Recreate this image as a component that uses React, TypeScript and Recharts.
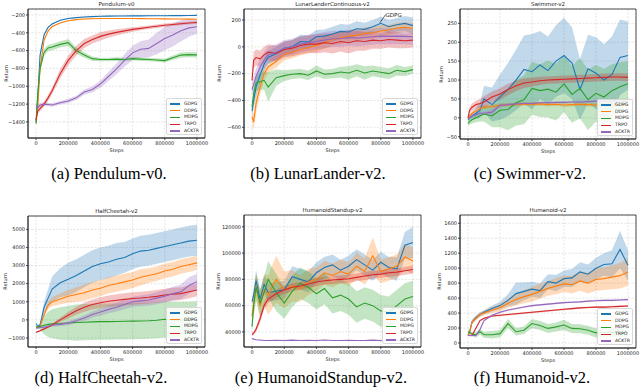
import {
  ComposedChart,
  Line,
  Area,
  XAxis,
  YAxis,
  CartesianGrid,
  ReferenceArea,
  ReferenceLine,
  ReferenceDot,
} from "recharts";

// shared x grid (env steps)
const steps = [0, 10000, 25000, 50000, 75000, 100000, 150000, 200000, 250000, 300000, 350000, 400000, 450000, 500000, 550000, 600000, 650000, 700000, 750000, 800000, 850000, 900000, 950000, 1000000];
const xTicks = [0, 200000, 400000, 600000, 800000, 1000000];

const algoNames = ["GDPG", "DDPG", "MDPG", "TRPO", "ACKTR"];
const algoKeys = ["gdpg", "ddpg", "mdpg", "trpo", "acktr"];
const algoColors = ["#1f77b4", "#ff7f0e", "#2ca02c", "#d62728", "#9467bd"];

// Pendulum-v0
const pendGdpg = [-1400, -1150, -650, -420, -340, -300, -260, -240, -230, -222, -218, -215, -213, -212, -211, -210, -210, -209, -208, -208, -207, -207, -206, -205];
const pendGdpgSd = [10, 30, 30, 15, 10, 8, 6, 5, 5, 5, 4, 4, 4, 4, 4, 4, 4, 4, 4, 4, 4, 4, 4, 4];
const pendDdpg = [-1400, -1250, -800, -480, -380, -330, -290, -265, -252, -245, -242, -240, -240, -240, -240, -240, -241, -242, -243, -244, -245, -246, -247, -248];
const pendDdpgSd = [10, 30, 30, 15, 10, 8, 6, 5, 5, 5, 4, 4, 4, 4, 4, 4, 4, 4, 4, 4, 4, 4, 4, 4];
const pendMdpg = [-1420, -1100, -800, -620, -570, -560, -530, -510, -600, -650, -690, -700, -700, -695, -700, -690, -695, -700, -705, -712, -680, -650, -645, -648];
const pendMdpgSd = [10, 40, 40, 40, 35, 35, 35, 40, 35, 30, 25, 20, 20, 20, 20, 20, 20, 20, 20, 20, 25, 30, 30, 30];
const pendTrpo = [-1380, -1280, -1250, -1200, -1130, -1050, -860, -710, -600, -520, -475, -440, -415, -395, -378, -362, -350, -338, -327, -316, -306, -298, -290, -284];
const pendTrpoSd = [20, 30, 30, 30, 35, 40, 50, 55, 55, 50, 45, 45, 40, 35, 30, 25, 20, 20, 20, 20, 18, 18, 18, 18];
const pendAcktr = [-1220, -1240, -1210, -1200, -1205, -1210, -1185, -1165, -1130, -1065, -1035, -975, -890, -805, -710, -625, -585, -575, -520, -465, -425, -378, -345, -332];
const pendAcktrSd = [20, 30, 25, 20, 20, 20, 20, 25, 25, 30, 35, 40, 50, 60, 70, 80, 90, 100, 120, 130, 130, 120, 100, 80];

// LunarLanderContinuous-v2
const lunGdpg = [-480, -400, -300, -210, -130, -80, -50, -10, 0, 40, 35, 75, 80, 95, 115, 110, 135, 130, 150, 175, 150, 165, 175, 158];
const lunGdpgSd = [30, 60, 70, 60, 50, 50, 50, 50, 50, 50, 50, 50, 50, 55, 55, 55, 55, 50, 50, 50, 50, 50, 55, 60];
const lunDdpg = [-520, -560, -420, -300, -200, -150, -110, -55, -40, -20, -5, 10, 30, 55, 65, 80, 85, 100, 105, 118, 125, 140, 145, 138];
const lunDdpgSd = [40, 60, 70, 60, 50, 45, 45, 45, 45, 45, 45, 45, 45, 45, 45, 45, 45, 45, 45, 45, 40, 40, 40, 40];
const lunMdpg = [-450, -350, -270, -260, -250, -300, -230, -215, -205, -200, -212, -180, -205, -200, -188, -195, -175, -195, -180, -190, -200, -175, -185, -170];
const lunMdpgSd = [30, 60, 60, 60, 70, 110, 60, 40, 35, 35, 35, 40, 35, 35, 40, 50, 45, 50, 40, 40, 40, 40, 35, 30];
const lunTrpo = [-250, -100, -80, -90, -60, -40, -50, -20, -10, 10, 20, 20, 30, 25, 40, 30, 45, 40, 50, 45, 55, 50, 45, 50];
const lunTrpoSd = [30, 60, 60, 60, 60, 60, 60, 60, 60, 65, 65, 70, 70, 75, 75, 80, 75, 70, 65, 60, 60, 60, 55, 55];
const lunAcktr = [-320, -280, -220, -150, -100, -60, -40, -10, 0, 20, 30, 40, 50, 60, 60, 70, 65, 70, 75, 80, 78, 80, 78, 75];
const lunAcktrSd = [40, 60, 60, 60, 60, 60, 60, 60, 60, 60, 60, 60, 60, 60, 60, 60, 60, 60, 60, 60, 60, 60, 60, 60];
// arrow for the "GDPG" note: tail, head, text spot
const lunNote = [
  { x: 830000, y: 240 },
  { x: 795000, y: 180 },
  { x: 880000, y: 240 },
];

// Swimmer-v2
const swGdpg = [-5, 0, 5, 12, 20, 50, 35, 55, 75, 100, 128, 122, 140, 125, 150, 165, 145, 75, 130, 118, 100, 115, 160, 165];
const swGdpgSd = [5, 8, 10, 15, 20, 35, 45, 60, 70, 80, 90, 100, 90, 90, 95, 100, 95, 80, 90, 95, 95, 100, 100, 90];
const swDdpg = [0, 5, 12, 18, 25, 28, 30, 33, 35, 35, 37, 36, 37, 35, 36, 34, 35, 36, 35, 34, 36, 35, 34, 35];
const swDdpgSd = [3, 4, 5, 5, 6, 6, 5, 5, 5, 5, 5, 5, 5, 5, 5, 5, 5, 5, 5, 5, 5, 5, 5, 5];
const swMdpg = [-15, -10, -5, 0, 5, 10, 5, 20, 22, 40, 48, 78, 72, 76, 68, 90, 62, 78, 48, 65, 55, 72, 82, 90];
const swMdpgSd = [5, 8, 10, 12, 15, 20, 30, 45, 55, 60, 65, 70, 70, 75, 75, 75, 75, 80, 80, 75, 75, 70, 65, 60];
const swTrpo = [0, 20, 28, 35, 38, 42, 55, 63, 75, 85, 92, 95, 98, 100, 101, 102, 103, 104, 105, 106, 107, 108, 108, 107];
const swTrpoSd = [5, 8, 10, 10, 12, 15, 15, 15, 15, 14, 13, 12, 11, 10, 10, 10, 10, 10, 10, 10, 10, 10, 10, 10];
const swAcktr = [-5, 0, 5, 8, 12, 12, 15, 33, 35, 37, 38, 38, 40, 40, 41, 41, 42, 42, 43, 44, 44, 44, 44, 44];
const swAcktrSd = [3, 3, 4, 5, 5, 5, 8, 4, 3, 3, 3, 3, 3, 3, 3, 3, 3, 3, 3, 3, 3, 3, 3, 3];

// HalfCheetah-v2
const hcGdpg = [-200, -350, -300, 700, 1200, 1700, 2050, 2250, 2450, 2700, 2950, 3100, 3200, 3350, 3450, 3650, 3800, 3850, 3950, 4050, 4150, 4250, 4350, 4400];
const hcGdpgSd = [20, 50, 100, 300, 500, 700, 800, 900, 900, 900, 900, 900, 900, 900, 850, 850, 850, 850, 850, 850, 850, 850, 850, 850];
const hcDdpg = [-400, -400, -350, 300, 800, 1000, 1150, 1300, 1400, 1500, 1650, 1750, 1900, 2000, 2100, 2200, 2350, 2450, 2550, 2700, 2800, 2950, 3050, 3150];
const hcDdpgSd = [20, 50, 80, 150, 200, 250, 300, 350, 400, 450, 450, 450, 450, 450, 450, 450, 450, 400, 400, 400, 400, 400, 400, 400];
const hcMdpg = [-400, -400, -350, -300, -250, -220, -200, -170, -150, -130, -110, -100, -100, -90, -80, -70, -60, -50, -20, 30, 0, -10, 0, 10];
const hcMdpgSd = [0, 50, 200, 500, 700, 800, 900, 950, 1000, 1000, 1000, 1000, 1000, 1000, 1000, 1000, 1000, 1000, 1000, 1000, 1000, 1000, 1000, 1000];
const hcTrpo = [-700, -650, -600, -500, -400, -280, 0, 250, 500, 700, 850, 950, 1030, 1080, 1130, 1180, 1210, 1250, 1300, 1370, 1420, 1450, 1550, 1650];
const hcTrpoSd = [30, 40, 50, 60, 70, 80, 120, 180, 220, 250, 280, 300, 320, 330, 340, 350, 350, 350, 350, 350, 350, 350, 350, 350];
const hcAcktr = [-450, -450, -420, -400, -350, -300, -250, -180, -50, 100, 300, 430, 580, 700, 850, 1000, 1050, 1100, 1200, 1300, 1450, 1550, 1900, 2100];
const hcAcktrSd = [50, 50, 60, 60, 70, 80, 100, 120, 140, 160, 180, 200, 220, 240, 260, 280, 300, 320, 340, 360, 380, 400, 450, 450];

// HumanoidStandup-v2
const hsGdpg = [63000, 68000, 79000, 65000, 76000, 70000, 71000, 72000, 82000, 80000, 78000, 85000, 89000, 91000, 87000, 90000, 95000, 91000, 87000, 93000, 89000, 88000, 106000, 108000];
const hsGdpgSd = [2000, 5000, 8000, 7000, 7000, 7000, 7000, 7000, 8000, 8000, 8000, 8000, 8000, 8000, 8000, 8000, 8000, 8000, 8000, 8000, 8000, 9000, 10000, 12000];
const hsDdpg = [52000, 62000, 75000, 60000, 72000, 68000, 80000, 72000, 75000, 73000, 78000, 80000, 85000, 83000, 86000, 84000, 90000, 86000, 98000, 86000, 88000, 90000, 97000, 94000];
const hsDdpgSd = [3000, 8000, 10000, 10000, 12000, 15000, 18000, 14000, 12000, 10000, 10000, 9000, 9000, 9000, 9000, 9000, 10000, 10000, 14000, 9000, 9000, 9000, 10000, 10000];
const hsMdpg = [44000, 60000, 74000, 62000, 70000, 80000, 70000, 62000, 71000, 77000, 74000, 69000, 73000, 66000, 68000, 65000, 59000, 62000, 60000, 56000, 55000, 60000, 65000, 67000];
const hsMdpgSd = [3000, 8000, 10000, 10000, 12000, 14000, 14000, 12000, 12000, 12000, 12000, 12000, 12000, 12000, 12000, 12000, 12000, 12000, 12000, 12000, 12000, 12000, 12000, 12000];
const hsTrpo = [38000, 39000, 42000, 50000, 60000, 65000, 69000, 72000, 74000, 75000, 76500, 78000, 79000, 79500, 80000, 80500, 81500, 82500, 83500, 84000, 85000, 85500, 86500, 87500];
const hsTrpoSd = [1000, 1500, 2000, 3000, 3000, 3000, 3000, 3000, 3000, 3000, 3000, 3000, 3000, 3000, 3000, 3000, 3000, 3000, 3000, 3000, 3000, 3000, 3000, 3000];
const hsAcktr = [35000, 34500, 34000, 33800, 33500, 33400, 33600, 33500, 33700, 33400, 33600, 33500, 33800, 33400, 33500, 33600, 33400, 33500, 33700, 33400, 33500, 33600, 33400, 33500];
const hsAcktrSd = [300, 300, 300, 300, 300, 300, 300, 300, 300, 300, 300, 300, 300, 300, 300, 300, 300, 300, 300, 300, 300, 300, 300, 300];

// Humanoid-v2
const hmGdpg = [100, 150, 280, 340, 380, 410, 460, 500, 570, 660, 690, 720, 700, 820, 800, 860, 870, 950, 920, 1000, 1050, 1060, 1250, 1040];
const hmGdpgSd = [10, 20, 30, 30, 30, 30, 40, 50, 80, 150, 120, 100, 100, 100, 110, 110, 120, 130, 130, 140, 150, 180, 250, 200];
const hmDdpg = [100, 150, 280, 330, 380, 400, 440, 470, 530, 580, 620, 650, 690, 730, 760, 790, 780, 830, 800, 850, 860, 880, 900, 950];
const hmDdpgSd = [10, 20, 30, 30, 30, 30, 40, 50, 60, 80, 90, 100, 100, 100, 110, 110, 120, 130, 140, 150, 150, 160, 170, 180];
const hmMdpg = [150, 140, 120, 110, 150, 110, 110, 125, 260, 150, 170, 260, 235, 195, 215, 240, 195, 190, 170, 135, 140, 140, 140, 140];
const hmMdpgSd = [20, 30, 30, 40, 40, 40, 50, 50, 60, 50, 50, 60, 60, 60, 60, 70, 60, 60, 60, 60, 60, 60, 60, 60];
const hmTrpo = [100, 100, 100, 200, 300, 330, 360, 370, 380, 390, 400, 410, 420, 430, 440, 450, 460, 470, 475, 480, 480, 485, 490, 495];
const hmTrpoSd = [10, 10, 10, 12, 12, 12, 12, 12, 12, 12, 12, 12, 12, 12, 12, 12, 12, 12, 12, 12, 12, 12, 12, 12];
const hmAcktr = [100, 100, 100, 100, 180, 300, 370, 410, 440, 460, 480, 500, 510, 520, 530, 540, 545, 550, 560, 565, 570, 570, 575, 580];
const hmAcktrSd = [10, 10, 10, 10, 12, 12, 12, 12, 12, 12, 12, 12, 12, 12, 12, 12, 12, 12, 12, 12, 12, 12, 12, 12];

const FONT = "'DejaVu Sans', sans-serif";
const INK = "#222";

const fmt = (v: number) => (v < 0 ? "\u2212" + Math.abs(v) : String(v));

type Box = { x: number; y: number; w: number; h: number };

interface PanelProps {
  title: string;
  caption: string;
  captionX: number;
  captionY: number;
  ylabelX: number;
  box: Box;
  yDomain: [number, number];
  yTicks: number[];
  series: number[][][];
  note?: { x: number; y: number }[];
}

const xDomain: [number, number] = [-50000, 1050000];

function Panel({ title, caption, captionX, captionY, ylabelX, box, yDomain, yTicks, series, note }: PanelProps) {
  const data = steps.map((x, i) => {
    const row: Record<string, unknown> = { x };
    series.forEach(([m, s], j) => {
      row[algoKeys[j]] = m[i];
      row[algoKeys[j] + "Band"] = [m[i] - s[i], m[i] + s[i]];
    });
    return row;
  });

  const ML = 40;
  const MT = 6;
  const MB = 20;
  const MR = 4;
  const tick = { fontSize: 5, fill: INK, fontFamily: FONT };
  const legW = 36;
  const legH = 37;

  return (
    <>
      <div style={{ position: "absolute", left: box.x - ML, top: box.y - MT }}>
        <ComposedChart
          width={box.w + ML + MR}
          height={box.h + MT + MB}
          data={data}
          margin={{ top: MT, right: MR, bottom: 0, left: 0 }}
        >
          <CartesianGrid strokeDasharray="2 1.5" stroke="#d4d4d4" strokeWidth={0.6} />
          <XAxis
            dataKey="x"
            type="number"
            domain={xDomain}
            ticks={xTicks}
            allowDataOverflow
            height={MB}
            tick={tick}
            tickSize={2}
            tickMargin={1}
            stroke={INK}
            strokeWidth={0.8}
            interval={0}
          />
          <YAxis
            type="number"
            domain={yDomain}
            ticks={yTicks}
            allowDataOverflow
            width={ML}
            tick={tick}
            tickSize={2}
            tickMargin={1}
            tickFormatter={fmt}
            stroke={INK}
            strokeWidth={0.8}
            interval={0}
          />
          {algoKeys.map((k, j) => (
            <Area
              key={k + "b"}
              dataKey={k + "Band"}
              stroke="none"
              fill={algoColors[j]}
              fillOpacity={0.28}
              isAnimationActive={false}
              activeDot={false}
            />
          ))}
          {algoKeys.map((k, j) => (
            <Line
              key={k}
              dataKey={k}
              stroke={algoColors[j]}
              strokeWidth={1.1}
              dot={false}
              activeDot={false}
              isAnimationActive={false}
            />
          ))}
          {note && (
            <ReferenceLine segment={[note[0], note[1]]} stroke="#000" strokeWidth={0.6} />
          )}
          {note && (
            <ReferenceDot
              x={note[2].x}
              y={note[2].y}
              r={0}
              fill="none"
              stroke="none"
              label={{ value: "GDPG", fontSize: 5.5, fill: INK, fontFamily: FONT, position: "center" }}
            />
          )}
          <ReferenceArea
            x1={xDomain[0]}
            x2={xDomain[1]}
            y1={yDomain[0]}
            y2={yDomain[1]}
            fill="none"
            stroke={INK}
            strokeWidth={0.8}
          />
        </ComposedChart>
      </div>

      {/* title */}
      <div
        style={{
          position: "absolute",
          left: box.x + box.w / 2 - 100,
          width: 200,
          top: box.y - 8,
          textAlign: "center",
          fontFamily: FONT,
          fontSize: 5.5,
          lineHeight: "7px",
          color: INK,
        }}
      >
        {title}
      </div>

      {/* x label */}
      <div
        style={{
          position: "absolute",
          left: box.x + box.w / 2 - 50,
          width: 100,
          top: box.y + box.h + 9,
          textAlign: "center",
          fontFamily: FONT,
          fontSize: 5,
          lineHeight: "7px",
          color: INK,
        }}
      >
        Steps
      </div>

      {/* y label */}
      <div
        style={{
          position: "absolute",
          left: ylabelX - 50,
          width: 100,
          top: box.y + box.h / 2 - 3.5,
          textAlign: "center",
          fontFamily: FONT,
          fontSize: 5,
          lineHeight: "7px",
          color: INK,
          transform: "rotate(-90deg)",
        }}
      >
        Return
      </div>

      {/* legend */}
      <div
        style={{
          position: "absolute",
          left: box.x + box.w - 3 - legW,
          top: box.y + box.h - 3 - legH,
          width: legW,
          height: legH,
          boxSizing: "border-box",
          background: "rgba(255,255,255,0.85)",
          border: "0.6px solid #d8d8d8",
          borderRadius: 2,
          paddingTop: 1.5,
        }}
      >
        {algoNames.map((n, j) => (
          <div key={n} style={{ display: "flex", alignItems: "center", height: 6.8 }}>
            <div style={{ marginLeft: 3, width: 10, height: 1.5, background: algoColors[j] }} />
            <div style={{ marginLeft: 4, fontFamily: FONT, fontSize: 4.6, color: INK, lineHeight: "6px" }}>{n}</div>
          </div>
        ))}
      </div>

      {/* caption */}
      <div
        style={{
          position: "absolute",
          left: captionX - 100,
          width: 200,
          top: captionY - 8.5,
          textAlign: "center",
          fontFamily: "'Liberation Serif', 'Times New Roman', serif",
          fontSize: 16.5,
          lineHeight: "17px",
          color: "#000",
        }}
      >
        {caption}
      </div>
    </>
  );
}

export default function App() {
  return (
    <div
      style={{
        position: "absolute",
        left: 0,
        top: 0,
        width: 640,
        height: 387,
        background: "#fff",
        overflow: "hidden",
      }}
    >
      <Panel
        title="Pendulum-v0"
        caption="(a) Pendulum-v0."
        captionX={109}
        captionY={173}
        ylabelX={6}
        box={{ x: 28, y: 9, w: 177, h: 129 }}
        yDomain={[-1580, -133]}
        yTicks={[-1400, -1200, -1000, -800, -600, -400, -200]}
        series={[
          [pendGdpg, pendGdpgSd],
          [pendDdpg, pendDdpgSd],
          [pendMdpg, pendMdpgSd],
          [pendTrpo, pendTrpoSd],
          [pendAcktr, pendAcktrSd],
        ]}
      />
      <Panel
        title="LunarLanderContinuous-v2"
        caption="(b) LunarLander-v2."
        captionX={318}
        captionY={173}
        ylabelX={219}
        box={{ x: 244, y: 9, w: 177, h: 129 }}
        yDomain={[-680, 282]}
        yTicks={[-600, -400, -200, 0, 200]}
        series={[
          [lunGdpg, lunGdpgSd],
          [lunDdpg, lunDdpgSd],
          [lunMdpg, lunMdpgSd],
          [lunTrpo, lunTrpoSd],
          [lunAcktr, lunAcktrSd],
        ]}
        note={lunNote}
      />
      <Panel
        title="Swimmer-v2"
        caption="(c) Swimmer-v2."
        captionX={530}
        captionY={173}
        ylabelX={441}
        box={{ x: 460, y: 9, w: 176, h: 130 }}
        yDomain={[-56, 288]}
        yTicks={[-50, 0, 50, 100, 150, 200, 250]}
        series={[
          [swGdpg, swGdpgSd],
          [swDdpg, swDdpgSd],
          [swMdpg, swMdpgSd],
          [swTrpo, swTrpoSd],
          [swAcktr, swAcktrSd],
        ]}
      />
      <Panel
        title="HalfCheetah-v2"
        caption="(d) HalfCheetah-v2."
        captionX={101}
        captionY={377.5}
        ylabelX={5}
        box={{ x: 28, y: 216, w: 177, h: 131 }}
        yDomain={[-1500, 5740]}
        yTicks={[-1000, 0, 1000, 2000, 3000, 4000, 5000]}
        series={[
          [hcGdpg, hcGdpgSd],
          [hcDdpg, hcDdpgSd],
          [hcMdpg, hcMdpgSd],
          [hcTrpo, hcTrpoSd],
          [hcAcktr, hcAcktrSd],
        ]}
      />
      <Panel
        title="HumanoidStandup-v2"
        caption="(e) HumanoidStandup-v2."
        captionX={321}
        captionY={377.5}
        ylabelX={218}
        box={{ x: 244, y: 215, w: 177, h: 132 }}
        yDomain={[28500, 129000]}
        yTicks={[40000, 60000, 80000, 100000, 120000]}
        series={[
          [hsGdpg, hsGdpgSd],
          [hsDdpg, hsDdpgSd],
          [hsMdpg, hsMdpgSd],
          [hsTrpo, hsTrpoSd],
          [hsAcktr, hsAcktrSd],
        ]}
      />
      <Panel
        title="Humanoid-v2"
        caption="(f) Humanoid-v2."
        captionX={532}
        captionY={377.5}
        ylabelX={439}
        box={{ x: 460, y: 215, w: 176, h: 133 }}
        yDomain={[-67, 1711]}
        yTicks={[0, 200, 400, 600, 800, 1000, 1200, 1400, 1600]}
        series={[
          [hmGdpg, hmGdpgSd],
          [hmDdpg, hmDdpgSd],
          [hmMdpg, hmMdpgSd],
          [hmTrpo, hmTrpoSd],
          [hmAcktr, hmAcktrSd],
        ]}
      />
    </div>
  );
}
